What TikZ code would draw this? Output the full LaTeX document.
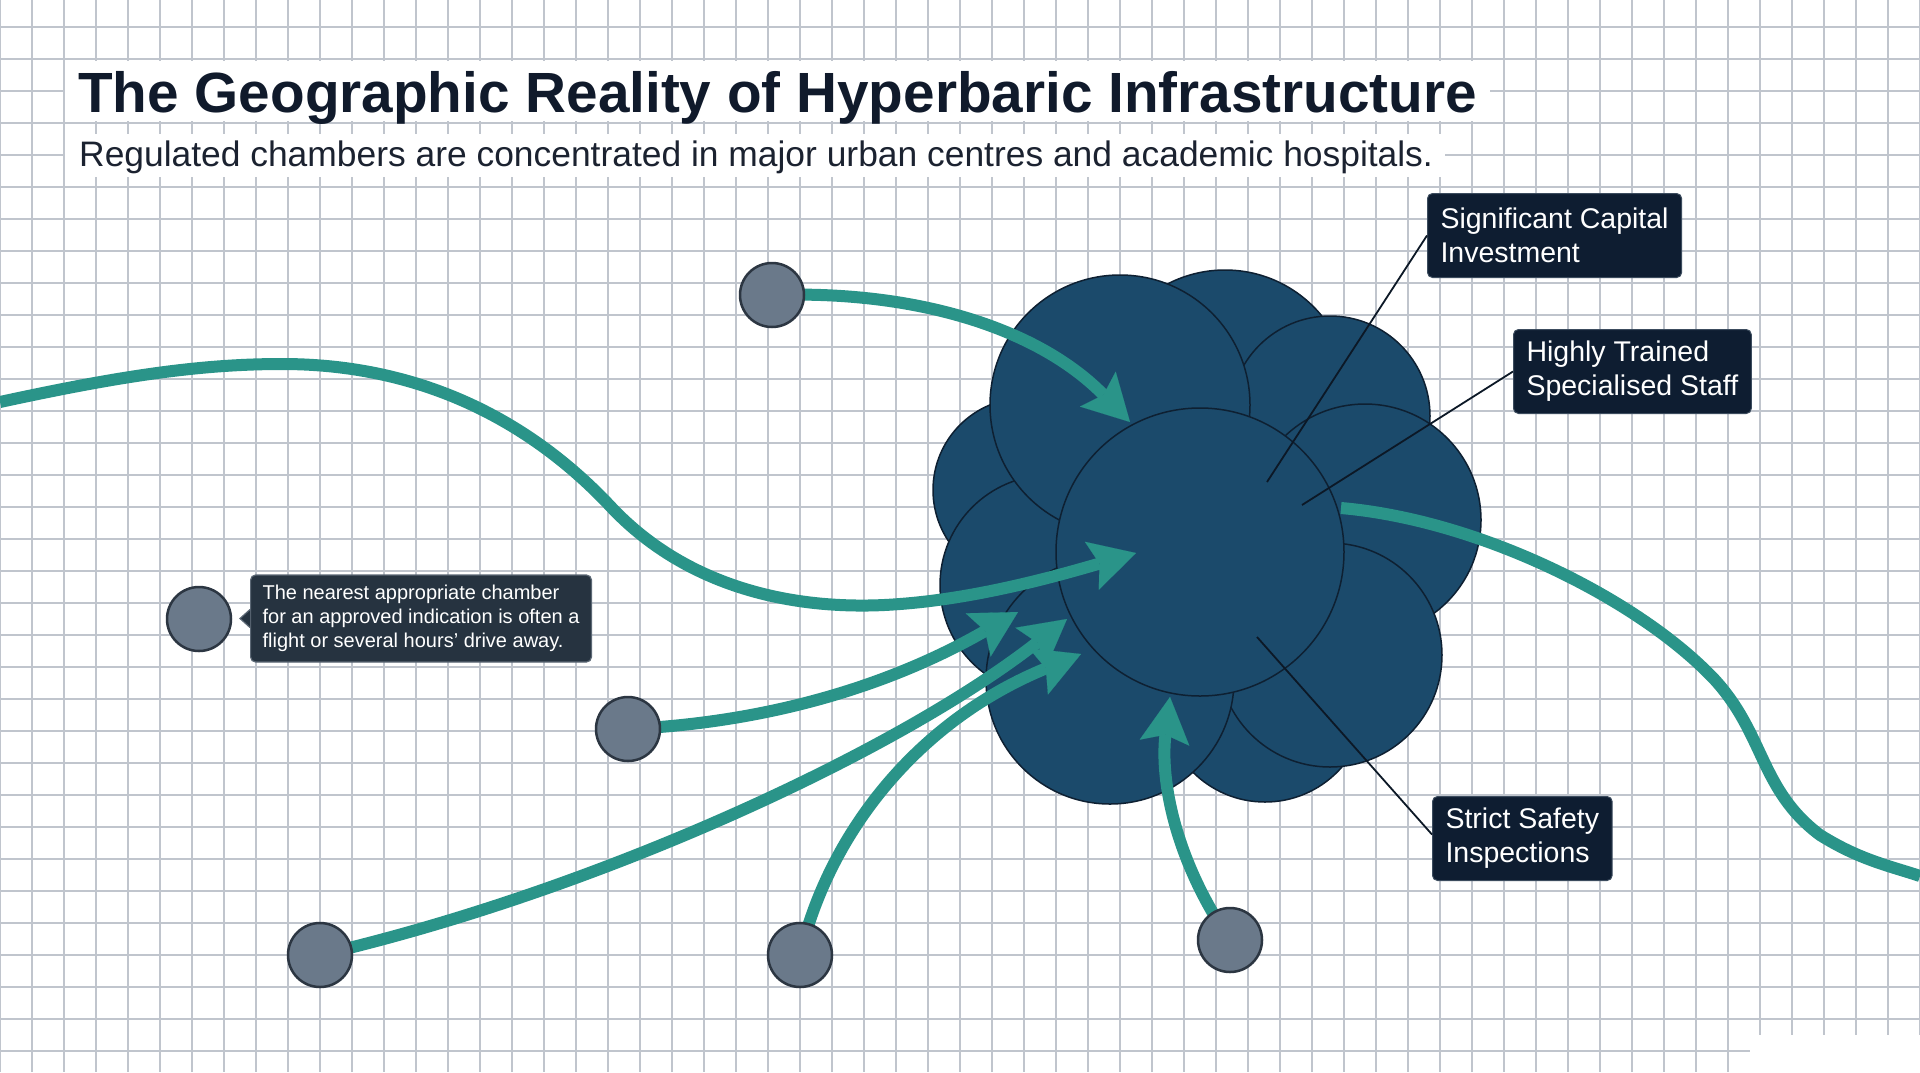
\documentclass[tikz,border=0pt]{standalone}
\usepackage{fontspec}
\setmainfont{Liberation Sans}
\usetikzlibrary{arrows.meta,calc}
\pgfdeclarelayer{gridlayer}
\pgfdeclarelayer{clusterlayer}
\pgfdeclarelayer{flowlayer}
\pgfsetlayers{gridlayer,clusterlayer,flowlayer,main}
\definecolor{gridc}{RGB}{192,197,205}
\definecolor{blobc}{RGB}{27,74,107}
\definecolor{blobline}{RGB}{14,32,50}
\definecolor{tealc}{RGB}{42,148,137}
\definecolor{dotc}{RGB}{106,121,138}
\definecolor{dotline}{RGB}{44,54,66}
\definecolor{labbg}{RGB}{14,29,49}
\definecolor{labline}{RGB}{60,76,94}
\definecolor{tipbg}{RGB}{38,51,64}
\definecolor{tipline}{RGB}{92,104,117}
\definecolor{titlec}{RGB}{16,26,43}
\definecolor{subc}{RGB}{27,34,48}
\definecolor{leadc}{RGB}{12,24,38}
\tikzset{
  gridln/.style={draw=gridc, line width=1.8pt},
  blobcirc/.style={fill=blobc, draw=blobline, line width=1.5pt},
  flow/.style={draw=tealc, line width=12pt,
    -{Stealth[length=46pt,width=50pt,inset=8pt,line width=0.1pt]}},
  flowplain/.style={draw=tealc, line width=12pt},
  dotnode/.style={circle, fill=dotc, draw=dotline, line width=2.5pt, minimum size=64pt, inner sep=0pt},
  leaderln/.style={draw=leadc, line width=1.8pt},
  labelbox/.style={fill=labbg, draw=labline, line width=1pt, rounded corners=5pt, text=white,
    font=\fontsize{28.5}{34}\selectfont, align=left, inner xsep=13pt, inner ysep=0pt,
    minimum height=84pt, anchor=north west},
  tipbox/.style={fill=tipbg, draw=tipline, line width=1.2pt, rounded corners=5pt, text=white,
    font=\fontsize{20}{24}\selectfont, align=left, inner xsep=12pt, inner ysep=0pt,
    minimum height=87pt, anchor=west}
}
\begin{document}
\begin{tikzpicture}[x=1pt,y=-1pt]
\useasboundingbox (0,0) rectangle (1920,1072);
\begin{pgfonlayer}{gridlayer}
\fill[white] (0,0) rectangle (1920,1072);
\foreach \i in {0,...,60} \draw[gridln] (\i*32,0) -- (\i*32,1072);
\foreach \j in {0,...,32} \draw[gridln] (0,27+\j*32) -- (1920,27+\j*32);
\fill[white] (65,61) rectangle (1490,121);
\fill[white] (65,134) rectangle (1445,177);
\fill[white] (1750,1035) rectangle (1920,1072);
\end{pgfonlayer}
\node[anchor=base west, inner sep=0pt, text=titlec, font=\fontsize{56.7}{60}\selectfont\bfseries] (title) at (78,112) {The Geographic Reality of Hyperbaric Infrastructure};
\node[anchor=base west, inner sep=0pt, text=subc, font=\fontsize{35.4}{40}\selectfont] (subtitle) at (79,166) {Regulated chambers are concentrated in major urban centres and academic hospitals.};
% cluster
\begin{pgfonlayer}{clusterlayer}
\draw[blobcirc] (1225,395) circle[radius=125pt];
\draw[blobcirc] (1330,416) circle[radius=100pt];
\draw[blobcirc] (1365,520) circle[radius=116pt];
\draw[blobcirc] (1265,700) circle[radius=102pt];
\draw[blobcirc] (1330,655) circle[radius=112pt];
\draw[blobcirc] (1025,490) circle[radius=92pt];
\draw[blobcirc] (1050,585) circle[radius=110pt];
\draw[blobcirc] (1110,680) circle[radius=124pt];
\draw[blobcirc] (1120,405) circle[radius=130pt];
\node[circle, fill=blobc, draw=blobline, line width=1.5pt, minimum size=288pt, inner sep=0pt] (hub) at (1200,552) {};
\end{pgfonlayer}
% coordinates
\coordinate (tipA) at (1130,422);
\coordinate (tipB) at (1136,553);
\coordinate (tipC) at (1018,612);
\coordinate (tipD) at (1067,619);
\coordinate (tipE) at (1081,654);
\coordinate (tipG) at (1170,697);
\coordinate (westend) at (0,402);
\coordinate (eastend) at (1920,876);
\coordinate (outstart) at (1341,508);
% dots
\node[dotnode] (d1) at (772,295) {};
\node[dotnode] (d2) at (199,619) {};
\node[dotnode] (d3) at (628,729) {};
\node[dotnode] (d4) at (320,955) {};
\node[dotnode] (d5) at (800,955) {};
\node[dotnode] (d6) at (1230,940) {};
% flows
\begin{pgfonlayer}{flowlayer}
\draw[flow] (westend) .. controls (120,376) and (200,364) .. (282,364)
  .. controls (420,364) and (530,420) .. (612,508)
  .. controls (690,590) and (800,612) .. (900,604)
  .. controls (980,598) and (1060,575) .. (tipB);
\draw[flowplain] (outstart) .. controls (1480,520) and (1640,600) .. (1715,680)
  .. controls (1765,735) and (1760,790) .. (1820,835)
  .. controls (1860,860) and (1890,866) .. (eastend);
\draw[flow] (d1.center) .. controls (920,290) and (1040,330) .. (tipA);
\draw[flow] (d3.center) .. controls (780,722) and (900,680) .. (tipC);
\draw[flow] (d4.center) .. controls (600,890) and (900,750) .. (tipD);
\draw[flow] (d5.center) .. controls (830,830) and (920,720) .. (tipE);
\draw[flow] (d6.center) .. controls (1175,860) and (1160,780) .. (tipG);
\end{pgfonlayer}
% leaders and labels
\node[labelbox] (lab1) at (1427,193) {Significant Capital\\Investment};
\node[labelbox] (lab2) at (1513,329) {Highly Trained\\Specialised Staff};
\node[labelbox] (lab3) at (1432,796) {Strict Safety\\Inspections};
\coordinate (e1) at (1267,482);
\coordinate (e2) at (1302,505);
\coordinate (e3) at (1257,637);
\draw[leaderln] (lab1.west) -- (e1);
\draw[leaderln] (lab2.west) -- (e2);
\draw[leaderln] ([yshift=4pt]lab3.west) -- (e3);
% tooltip
\node[tipbox] (tip) at (250,618.5) {The nearest appropriate chamber\\for an approved indication is often a\\flight or several hours' drive away.};
\fill[tipbg] ([yshift=9pt]tip.west) -- ([xshift=-10pt]tip.west) -- ([yshift=-9pt]tip.west) -- cycle;
\draw[tipline, line width=1.2pt] ([yshift=9pt]tip.west) -- ([xshift=-10pt]tip.west) -- ([yshift=-9pt]tip.west);
\end{tikzpicture}
\end{document}
